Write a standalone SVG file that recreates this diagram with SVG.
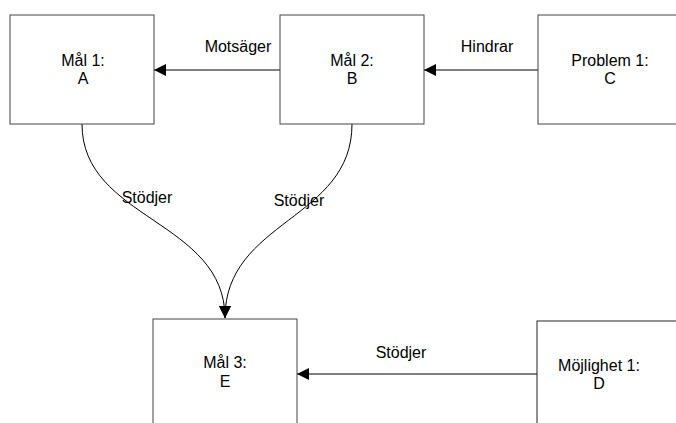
<svg xmlns="http://www.w3.org/2000/svg" width="676" height="423" viewBox="0 0 676 423">
  <style>
    .box { fill: #ffffff; stroke: #444444; stroke-width: 1; }
    .box-dark { fill: #ffffff; stroke: #222222; stroke-width: 1; }
    .label { font-family: "Liberation Sans", Arial, sans-serif; font-size: 16px; fill: #000000; text-anchor: middle; }
    .edge { fill: none; stroke: #000000; stroke-width: 1; }
  </style>
  <defs>
    <marker id="arrow" viewBox="0 0 12 12" refX="12" refY="6" markerWidth="12" markerHeight="12" markerUnits="userSpaceOnUse" orient="auto">
      <path d="M0,0 L12,6 L0,12 Z" fill="#000000"/>
    </marker>
  </defs>

  <rect width="676" height="423" fill="#ffffff"/>

  <g id="connectors">
    <path class="edge" d="M280,70 L154,70" marker-end="url(#arrow)"/>
    <path class="edge" d="M538,70 L424,70" marker-end="url(#arrow)"/>
    <path class="edge" d="M537,374 L297,374" marker-end="url(#arrow)"/>
    <path class="edge" d="M82,124 C82,220 225,220 225,318" marker-end="url(#arrow)"/>
    <path class="edge" d="M352,124 C352,220 225,220 225,318" marker-end="url(#arrow)"/>
    <text class="label" x="238" y="52">Motsäger</text>
    <text class="label" x="487" y="52">Hindrar</text>
    <text class="label" x="147" y="203">Stödjer</text>
    <text class="label" x="299" y="206">Stödjer</text>
    <text class="label" x="401" y="358">Stödjer</text>
  </g>

  <g id="goal-a">
    <rect class="box" x="10" y="15" width="144" height="109"/>
    <text class="label" x="83" y="66">Mål 1:</text>
    <text class="label" x="83" y="84">A</text>
  </g>

  <g id="goal-b">
    <rect class="box" x="280" y="15" width="144" height="109"/>
    <text class="label" x="352" y="66">Mål 2:</text>
    <text class="label" x="352" y="84">B</text>
  </g>

  <g id="problem-c">
    <rect class="box" x="538" y="15" width="144" height="109"/>
    <text class="label" x="610" y="66">Problem 1:</text>
    <text class="label" x="610" y="84">C</text>
  </g>

  <g id="goal-e">
    <rect class="box" x="153" y="319" width="144" height="120"/>
    <text class="label" x="225" y="368">Mål 3:</text>
    <text class="label" x="225" y="387">E</text>
  </g>

  <g id="opportunity-d">
    <rect class="box-dark" x="537" y="321" width="144" height="120"/>
    <text class="label" x="599" y="371">Möjlighet 1:</text>
    <text class="label" x="599" y="389">D</text>
  </g>
</svg>
